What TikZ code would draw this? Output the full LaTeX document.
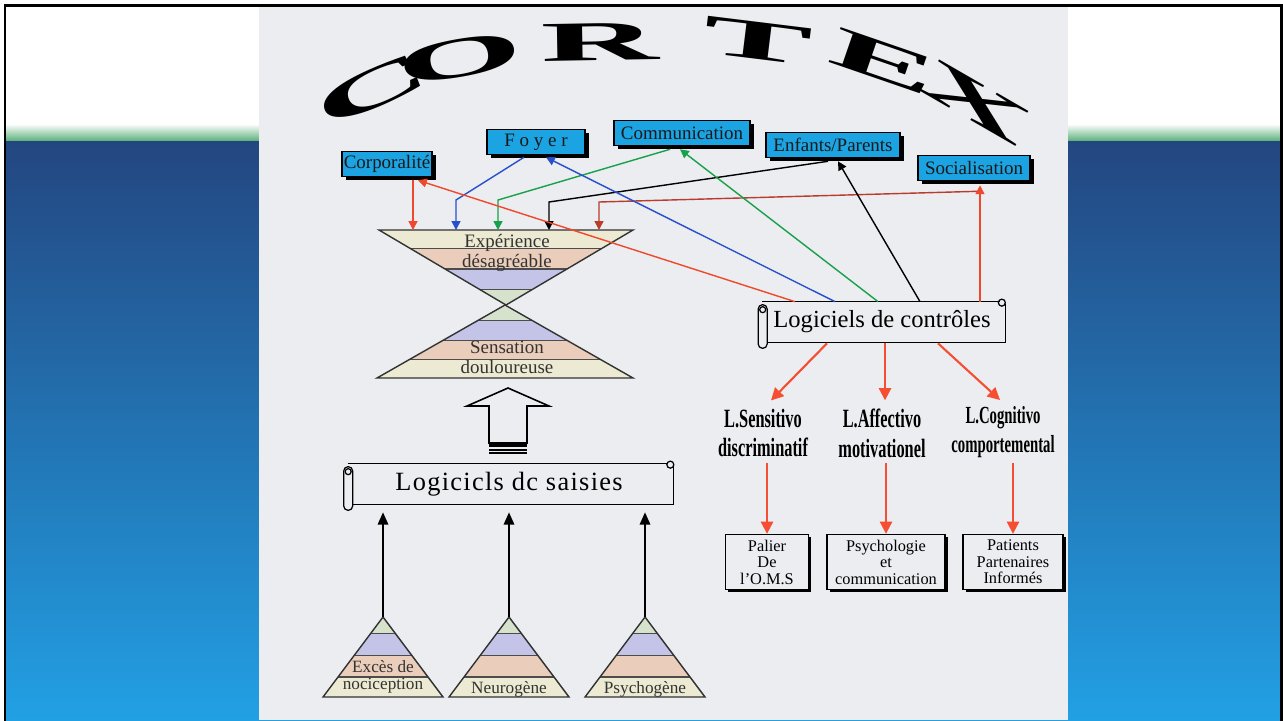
\documentclass[tikz,border=0pt]{standalone}
\usepackage{fontspec}
\setmainfont{Liberation Serif}
\usetikzlibrary{arrows.meta, positioning, calc, shadows}

\definecolor{slidetop}{RGB}{35,70,128}
\definecolor{slidemid}{RGB}{34,100,163}
\definecolor{slidebot}{RGB}{34,160,228}
\definecolor{slidegreen}{RGB}{95,178,125}
\definecolor{paper}{RGB}{235,237,240}
\definecolor{boxblue}{RGB}{28,163,226}
\definecolor{bandbeige}{RGB}{236,234,210}
\definecolor{bandpink}{RGB}{234,205,186}
\definecolor{bandlav}{RGB}{196,196,232}
\definecolor{bandgreen}{RGB}{214,226,204}
\definecolor{linered}{RGB}{240,72,45}
\definecolor{lineblue}{RGB}{40,80,205}
\definecolor{linegreen}{RGB}{25,160,75}
\definecolor{linedark}{RGB}{185,60,45}
\definecolor{arrowred}{RGB}{245,78,50}

\tikzset{topbox/.style = {draw, line width = 0.9pt, fill = boxblue, text = black!90,
                          font = \fontsize{10.8}{12}\selectfont,
                          minimum height = 0.5cm, inner sep = 1pt,
                          drop shadow = {shadow xshift = 2.2pt, shadow yshift = -2.2pt,
                                         fill = black, opacity = 1}},
         smallbox/.style = {draw, line width = 0.8pt, fill = paper, align = center,
                            font = \fontsize{9.3}{9.4}\selectfont,
                            minimum height = 1.1cm, inner sep = 1pt,
                            drop shadow = {shadow xshift = 1.6pt, shadow yshift = -1.6pt,
                                           fill = black, opacity = 1}},
         level/.style = {align = center, inner sep = 0pt,
                         font = \bfseries\fontsize{15}{17}\selectfont},
         scrolltext/.style = {minimum height = 0.8cm, inner sep = 0pt,
                              font = \fontsize{14}{14}\selectfont},
         scroll/.style = {line width = 0.7pt},
         bandtext/.style = {align = center, inner sep = 0pt, text = black!80,
                            font = \fontsize{10.8}{11.3}\selectfont},
         pyrtext/.style = {align = center, inner sep = 0pt, text = black!80,
                           font = \fontsize{9.8}{10}\selectfont},
         cortex/.style = {inner sep = 0pt, font = \bfseries\fontsize{32}{32}\selectfont},
         feed/.style = {line width = 0.8pt, -{Triangle[length = 5pt, width = 5pt]}},
         branch/.style = {arrowred, line width = 1.2pt, -{Triangle[length = 7pt, width = 7pt]}},
         rise/.style = {line width = 0.9pt, -{Triangle[length = 7pt, width = 6pt]}},
         pyr/.pic = {
           \begin{scope}
             \clip (-1,1) -- (0,0) -- (1,1) -- cycle;
             \fill[bandgreen] (-1,0) rectangle (1,0.21);
             \fill[bandlav]   (-1,0.21) rectangle (1,0.48);
             \fill[bandpink]  (-1,0.48) rectangle (1,0.75);
             \fill[bandbeige] (-1,0.75) rectangle (1,1);
             \draw[black!70, line width = 0.6pt] (-1,0.21) -- (1,0.21)
                  (-1,0.48) -- (1,0.48) (-1,0.75) -- (1,0.75);
           \end{scope}
           \draw[black!80, line width = 0.8pt] (-1,1) -- (0,0) -- (1,1) -- cycle;
         }}

\begin{document}
\begin{tikzpicture}[x = 0.02cm, y = -0.02cm]
    \useasboundingbox (0,0) rectangle (1283,720);

    % slide behind the scan
    \fill[white] (0,0) rectangle (1283,720);
    \shade[top color = slidetop, middle color = slidemid, bottom color = slidebot]
          (5,140) rectangle (1282,720);
    \shade[top color = white, bottom color = slidegreen] (5,124) rectangle (1282,140.5);
    \fill[paper] (259,7) rectangle (1068,720);
    \draw[line width = 1.6pt] (5,722) -- (5,5.5) -- (1281.5,5.5) -- (1281.5,722);

    % title
    \node[cortex, rotate = 24,  xscale = 2.9] (c1) at (372,90) {C};
    \node[cortex, rotate = 10,  xscale = 2.9] (c2) at (460,58) {O};
    \node[cortex, rotate = 1,   xscale = 2.9] (c3) at (600,42) {R};
    \node[cortex, rotate = -7,  xscale = 2.9] (c4) at (758,41) {T};
    \node[cortex, rotate = -19, xscale = 2.9] (c5) at (884,62) {E};
    \node[cortex, rotate = -30, xscale = 2.9] (c6) at (976,102) {X};

    % top boxes
    \node[topbox, minimum width = 1.78cm] (corp)  at (387,164) {Corporalité};
    \node[topbox, minimum width = 1.96cm] (foyer) at (536,142) {F o y e r};
    \node[topbox, minimum width = 2.72cm] (comm)  at (682,133) {Communication};
    \node[topbox, minimum width = 2.68cm] (enf)   at (833,145) {Enfants/Parents};
    \node[topbox, minimum width = 2.24cm] (soc)   at (974,168) {Socialisation};

    % hourglass
    \pic[xscale = 127, yscale = -75] at (506,305) {pyr};
    \pic[xscale = 128, yscale = 73]  at (505,305) {pyr};
    \node[bandtext] (exper) at (507,253) {Expérience\\désagréable};
    \node[bandtext] (sensa) at (507,357) {Sensation\\douloureuse};

    \coordinate (in1) at (413,230);
    \coordinate (in2) at (456,230);
    \coordinate (in3) at (498,230);
    \coordinate (in4) at (549,230);
    \coordinate (in5) at (599,230);

    \draw[feed, linered]   ($(corp.south)+(26,3)$)   -- (in1);
    \draw[feed, lineblue]  ($(foyer.south)+(-12,2)$) -- ($(in2)+(0,-30)$) -- (in2);
    \draw[feed, linegreen] ($(comm.south)+(-12,3)$)  -- ($(in3)+(0,-30)$) -- (in3);
    \draw[feed]            ($(enf.south)+(-5,3)$)    -- ($(in4)+(0,-28)$) -- (in4);
    \draw[feed, linedark]  ($(soc.south)+(4,10)$)    -- ($(in5)+(0,-28)$) -- (in5);

    % control software
    \node[scrolltext, minimum width = 4.7cm] (ctrl) at (882,322) {Logiciels de contrôles};
    \draw[scroll] ($(ctrl.north west)+(-2,0)$) -- (ctrl.north east);
    \draw[scroll] ($(ctrl.north east)+(2,1)$) circle[radius = 3.5];
    \draw[scroll] ($(ctrl.north east)+(5.5,2)$) -- ($(ctrl.south east)+(5.5,0)$)
                  -- ($(ctrl.south west)+(3,0)$);
    \draw[scroll, rounded corners = 2.5pt] ($(ctrl.north west)+(-6,3)$)
                  rectangle ($(ctrl.south west)+(3,6)$);
    \draw[scroll] ($(ctrl.north west)+(-1.5,8)$) circle[radius = 3];

    \draw[feed, linered]   ($(ctrl.north)+(-87,0)$) -- ($(corp.south)+(31,3)$);
    \draw[feed, lineblue]  ($(ctrl.north)+(-47,0)$) -- ($(foyer.south)+(10,2)$);
    \draw[feed, linegreen] ($(ctrl.north)+(-4,0)$)  -- ($(comm.south)+(-2,3)$);
    \draw[feed]            ($(ctrl.north)+(38,0)$)  -- ($(enf.south)+(5,3)$);
    \draw[feed, linered]   ($(ctrl.north)+(98,0)$)  -- ($(soc.south)+(6,4)$);

    % three levels
    \node[level, xscale = 0.62] (sensi)  at (763,433) {L.Sensitivo\\discriminatif};
    \node[level, xscale = 0.62] (affect) at (882,433) {L.Affectivo\\motivationel};
    \node[level, xscale = 0.6, font = \bfseries\fontsize{14}{16.5}\selectfont]
                                (cogn)   at (1003,432) {L.Cognitivo\\comportemental};

    \draw[branch] ($(ctrl.south)+(-55,1)$) -- ($(sensi.north)+(8,-8)$);
    \draw[branch] ($(ctrl.south)+(3,1)$)   -- ($(affect.north)+(3,-8)$);
    \draw[branch] ($(ctrl.south)+(56,1)$)  -- ($(cogn.north)+(-3,-6)$);

    \node[smallbox, minimum width = 1.66cm] (palier) at (767,562) {Palier\\De\\l’O.M.S};
    \node[smallbox, minimum width = 2.36cm] (psy)    at (886,562) {Psychologie\\et\\communication};
    \node[smallbox, minimum width = 2.0cm]  (pat)    at (1013,562) {Patients\\Partenaires\\Informés};

    \draw[branch] ($(palier.north |- sensi.south)+(0,5)$) -- (palier.north);
    \draw[branch] ($(psy.north |- affect.south)+(0,5)$)   -- (psy.north);
    \draw[branch] ($(pat.north |- cogn.south)+(0,5)$)     -- (pat.north);

    % hollow arrow
    \draw[line width = 0.9pt, fill = paper] (508,388) -- (549,406) -- (527,406) -- (527,443)
         -- (489,443) -- (489,406) -- (467,406) -- cycle;
    \fill (489,443) rectangle (527,446.5);
    \draw[line width = 1pt] (489,450) -- (527,450) (489,453) -- (527,453);

    % input software
    \node[scrolltext, minimum width = 6.36cm,
          font = \fontsize{15}{15}\selectfont\addfontfeatures{LetterSpace = 5}]
          (saisie) at (509,484) {Logicicls dc saisies};
    \draw[scroll] ($(saisie.north west)+(-2,0)$) -- (saisie.north east);
    \draw[scroll] ($(saisie.north east)+(2,1)$) circle[radius = 3.5];
    \draw[scroll] ($(saisie.north east)+(5.5,2)$) -- ($(saisie.south east)+(5.5,0)$)
                  -- ($(saisie.south west)+(3,0)$);
    \draw[scroll, rounded corners = 2.5pt] ($(saisie.north west)+(-6,3)$)
                  rectangle ($(saisie.south west)+(3,6)$);
    \draw[scroll] ($(saisie.north west)+(-1.5,8)$) circle[radius = 3];

    % three origins
    \pic[xscale = 60, yscale = 80] at (383,617) {pyr};
    \pic[xscale = 60, yscale = 80] at (509,617) {pyr};
    \pic[xscale = 60, yscale = 80] at (645,617) {pyr};
    \coordinate (apex1) at (383,617);
    \coordinate (apex2) at (509,617);
    \coordinate (apex3) at (645,617);
    \node[pyrtext] (noci)  at (383,677) {Excès de\\nociception};
    \node[pyrtext] (neuro) at (509,689) {Neurogène};
    \node[pyrtext] (psych) at (645,689) {Psychogène};

    \draw[rise] (apex1) -- ($(apex1 |- saisie.south)+(0,8)$);
    \draw[rise] (apex2) -- ($(apex2 |- saisie.south)+(0,8)$);
    \draw[rise] (apex3) -- ($(apex3 |- saisie.south)+(0,8)$);
\end{tikzpicture}
\end{document}
